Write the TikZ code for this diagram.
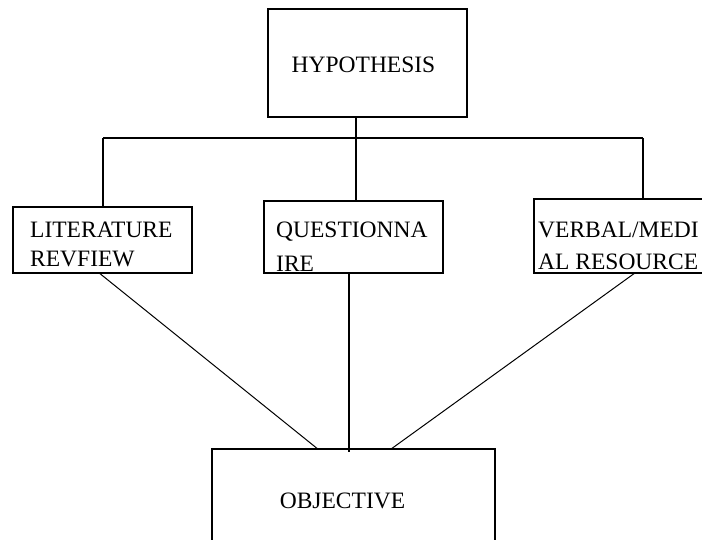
\documentclass[tikz,border=0pt]{standalone}
\usepackage{fontspec}
\setmainfont{Liberation Serif}
\usetikzlibrary{calc}

\begin{document}
\begin{tikzpicture}
    [x=1pt, y=-1pt,
     box/.style={shape=rectangle, draw=black, line width=1.3pt, inner sep=0pt},
     txt/.style={inner sep=0pt, anchor=base west, font=\fontsize{23.5}{28}\selectfont},
     link/.style={draw=black, line width=1.3pt},
    ]
\useasboundingbox (0,0) rectangle (702,539);
\clip (0,0) rectangle (702,539);

\node[box, minimum width=199pt, minimum height=108pt] (hyp) at (367.5,63) {};
\node[box, minimum width=179pt, minimum height=66pt] (lit) at (102.5,240) {};
\node[box, minimum width=179pt, minimum height=72pt] (que) at (353.5,237) {};
\node[box, minimum width=181pt, minimum height=74pt] (ver) at (624.5,236) {};
\node[box, minimum width=283pt, minimum height=111pt] (obj) at (353.5,504.5) {};

\node[txt, anchor=base] (hyp_t) at (363.5,72) {HYPOTHESIS};
\node[txt] (lit_a) at (30,237) {LITERATURE};
\node[txt] (lit_b) at (30,266) {REVFIEW};
\node[txt] (que_a) at (276,237) {QUESTIONNA};
\node[txt] (que_b) at (276,271) {IRE};
\node[txt] (ver_a) at (538,237) {VERBAL/MEDI};
\node[txt] (ver_b) at (538,269) {AL RESOURCE};
\node[txt, anchor=base] (obj_t) at (342.5,508) {OBJECTIVE};

% tree under the hypothesis
\coordinate (barL) at (103,138);
\coordinate (barM) at (356,138);
\coordinate (barR) at (643,138);
\draw[link] (barL) -- (barR);
\draw[link] (barM) -- (barM |- hyp.south);
\draw[link] (barL) -- (barL |- lit.north);
\draw[link] (barM) -- (barM |- que.north);
\draw[link] (barR) -- (barR |- ver.north);

% links down to the objective
\draw[link, line width=1pt] ($(lit.south)+(-2.5,0)$) -- ($(obj.north)+(-36.5,0)$);
\draw[link] ($(que.south)+(-4.5,0)$) -- ($(obj.north)+(-4.5,4)$);
\draw[link, line width=1pt] ($(ver.south)+(9.5,0)$) -- ($(obj.north)+(38.5,0)$);

\end{tikzpicture}
\end{document}
